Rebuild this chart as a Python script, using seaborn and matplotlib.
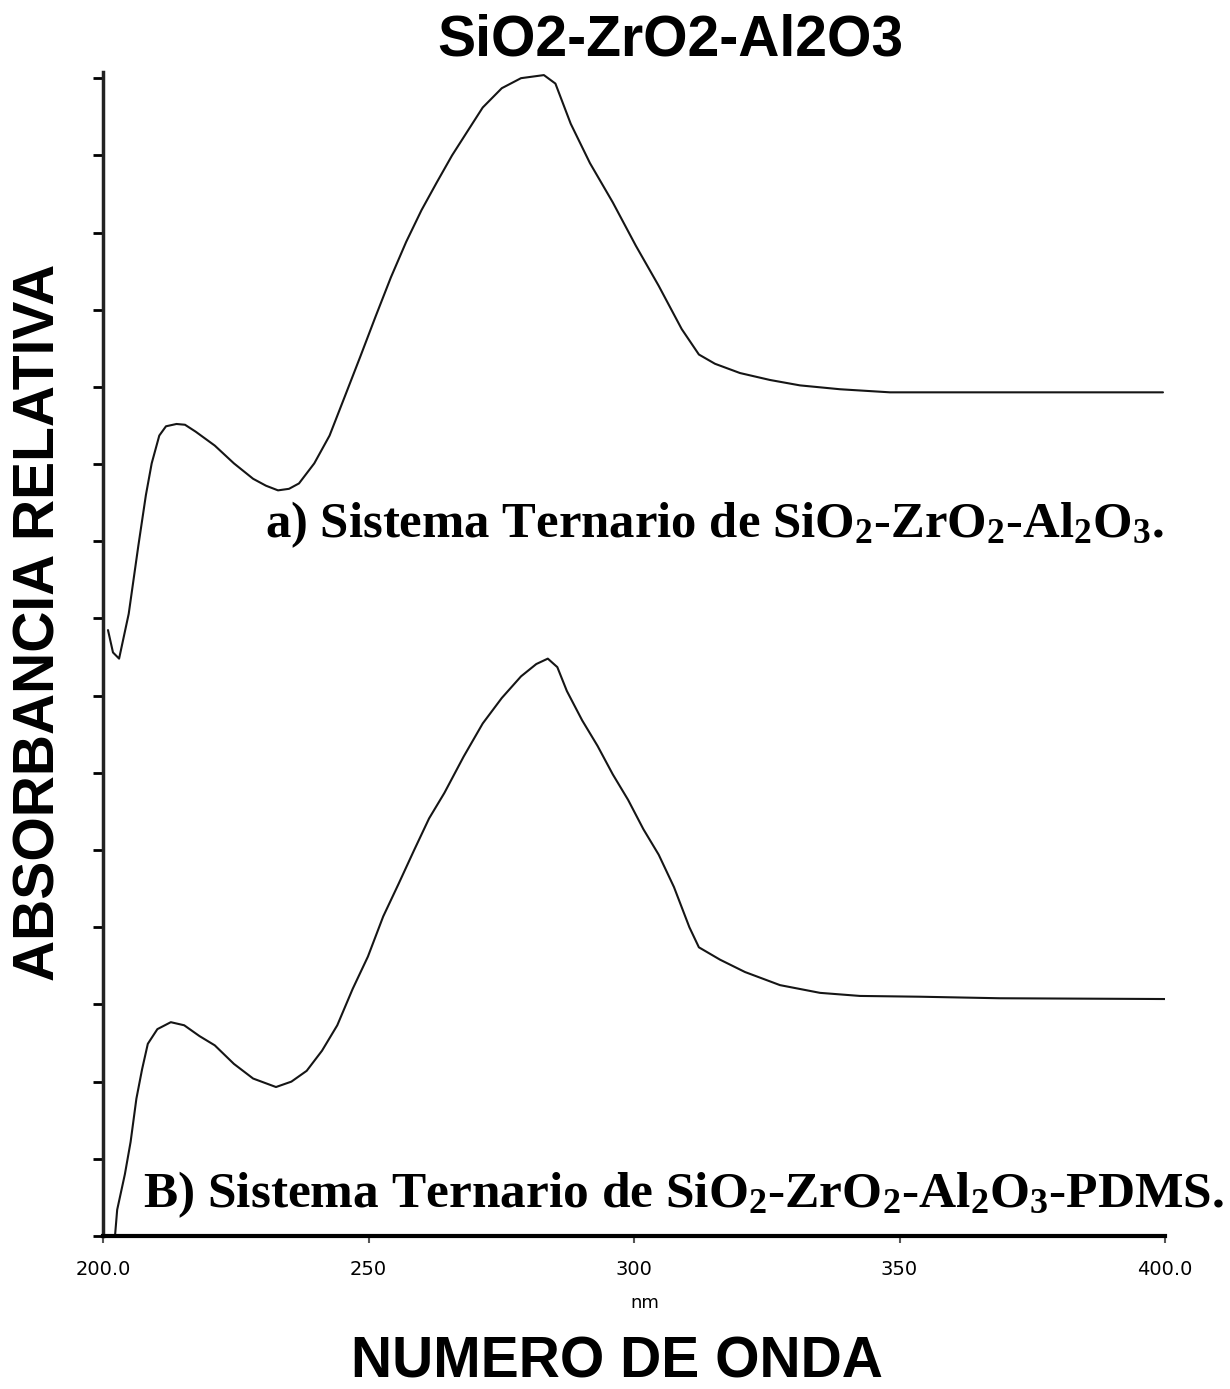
import numpy as np
import pandas as pd
import matplotlib
matplotlib.use("Agg")
import matplotlib.pyplot as plt
import seaborn as sns

# ---- data ----
wl_a = [200.94, 201.88, 203.03, 204.84, 206.65, 208.08, 209.17, 210.60, 211.86, 213.84,
        215.44, 217.46, 221.05, 224.65, 228.27, 230.70, 232.96, 235.03, 236.91, 239.79,
        242.67, 245.56, 248.44, 251.32, 254.22, 257.10, 259.98, 262.86, 265.74, 268.62,
        271.51, 275.10, 278.72, 283.03, 285.20, 288.08, 291.70, 296.01, 300.34, 304.65,
        308.98, 312.22, 315.25, 319.96, 325.61, 331.26, 338.79, 348.21, 368.93, 399.62]
abs_a = [7.85, 7.56, 7.48, 8.06, 8.94, 9.60, 10.01, 10.37, 10.49, 10.52,
         10.51, 10.42, 10.24, 10.01, 9.81, 9.72, 9.66, 9.68, 9.75, 10.01,
         10.37, 10.88, 11.39, 11.91, 12.42, 12.88, 13.29, 13.65, 14.00, 14.31,
         14.62, 14.87, 15.00, 15.04, 14.93, 14.41, 13.90, 13.39, 12.83, 12.31,
         11.75, 11.42, 11.30, 11.18, 11.09, 11.02, 10.97, 10.93, 10.93, 10.93]

wl_b = [202.26, 202.67, 204.12, 205.20, 206.29, 207.36, 208.44, 210.24, 212.77, 215.29,
        218.17, 221.05, 224.65, 228.27, 232.58, 235.48, 238.36, 241.24, 244.12, 247.01,
        249.89, 252.77, 255.65, 258.53, 261.41, 264.29, 267.91, 271.51, 275.10, 278.72,
        281.60, 283.77, 285.56, 287.36, 290.24, 293.13, 296.01, 298.89, 301.77, 304.65,
        307.53, 310.43, 312.22, 316.20, 320.90, 327.50, 335.03, 342.56, 353.86, 368.93,
        400.00]
abs_b = [0.00, 0.34, 0.80, 1.22, 1.78, 2.16, 2.49, 2.68, 2.77, 2.73,
         2.59, 2.47, 2.23, 2.04, 1.93, 2.00, 2.14, 2.40, 2.73, 3.20,
         3.62, 4.14, 4.56, 4.99, 5.41, 5.74, 6.21, 6.64, 6.97, 7.25,
         7.41, 7.48, 7.37, 7.06, 6.68, 6.35, 5.98, 5.65, 5.27, 4.94,
         4.52, 4.00, 3.74, 3.58, 3.42, 3.25, 3.15, 3.11, 3.10, 3.08,
         3.07]

x_ticks = [200, 250, 300, 350, 400]
x_ticklabels = ["200.0", "250", "300", "350", "400.0"]
y_ticks = list(range(0, 16))

title = "SiO2-ZrO2-Al2O3"
ylabel = "ABSORBANCIA RELATIVA"
xlabel = "NUMERO DE ONDA"
unit = "nm"
label_a = r"a) Sistema Ternario de SiO$_2$-ZrO$_2$-Al$_2$O$_3$."
label_b = r"B) Sistema Ternario de SiO$_2$-ZrO$_2$-Al$_2$O$_3$-PDMS."

# ---- style ----
sns.set_style("ticks")
plt.rcParams["font.family"] = ["Liberation Sans", "DejaVu Sans"]
plt.rcParams["text.color"] = "black"
plt.rcParams["xtick.color"] = "black"
plt.rcParams["ytick.color"] = "black"
plt.rcParams["mathtext.fontset"] = "custom"
plt.rcParams["mathtext.rm"] = "Liberation Serif:bold"
plt.rcParams["mathtext.it"] = "Liberation Serif:bold"
plt.rcParams["mathtext.bf"] = "Liberation Serif:bold"

df = pd.concat([
    pd.DataFrame({"wl": wl_a, "A": abs_a, "serie": "a"}),
    pd.DataFrame({"wl": wl_b, "A": abs_b, "serie": "b"}),
])

W, H = 1230, 1389
fig = plt.figure(figsize=(W / 100, H / 100), dpi=100)
ax = fig.add_axes([103 / W, 1 - 1236 / H, (1165 - 103) / W, (1236 - 72) / H])

sns.lineplot(data=df, x="wl", y="A", units="serie", estimator=None, sort=False,
             color="#151515", lw=1.5, ax=ax, legend=False)

ax.set_xlim(200, 400)
ax.set_ylim(0, 15.08)
ax.set_xticks(x_ticks)
ax.set_xticklabels(x_ticklabels, fontsize=14, family="DejaVu Sans", color="black")
ax.set_yticks(y_ticks)
ax.set_yticklabels([])
ax.tick_params(axis="y", direction="out", length=7, width=2, color="black")
ax.tick_params(axis="x", direction="out", length=5, width=1.5, color="#555555", pad=12)
ax.set_xlabel("")
ax.set_ylabel("")
for s in ["top", "right"]:
    ax.spines[s].set_visible(False)
ax.spines["left"].set_linewidth(2.5)
ax.spines["bottom"].set_linewidth(3)
ax.spines["left"].set_color("#222222")
ax.spines["bottom"].set_color("black")

# ---- texts ----
fig.text(670 / W, 1 - 40 / H, title, ha="center", va="center",
         fontsize=41, fontweight="bold", color="black")
fig.text(40 / W, 1 - 622 / H, ylabel, ha="center", va="center", rotation=90,
         fontsize=41, fontweight="bold", color="black")
fig.text(617 / W, 1 - 1362 / H, xlabel, ha="center", va="center",
         fontsize=41, fontweight="bold", color="black")
fig.text(645 / W, 1 - 1303 / H, unit, ha="center", va="center", fontsize=13,
         family="DejaVu Sans", color="black")
fig.text(265 / W, 1 - 537 / H, label_a, ha="left", va="baseline",
         fontsize=36.5, fontweight="bold", family="Liberation Serif", color="black")
fig.text(143 / W, 1 - 1207 / H, label_b, ha="left", va="baseline",
         fontsize=37, fontweight="bold", family="Liberation Serif", color="black")

fig.savefig("out.png", dpi=100, facecolor="white")
